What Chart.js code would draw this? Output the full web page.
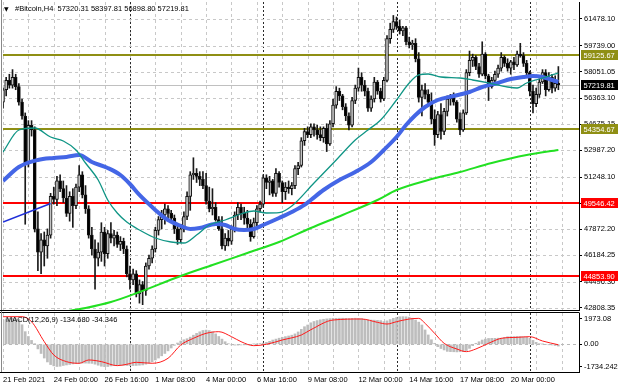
<!DOCTYPE html>
<html><head><meta charset="utf-8">
<script src="https://cdn.jsdelivr.net/npm/chart.js@4.4.1/dist/chart.umd.min.js"></script>
<style>
html,body{margin:0;padding:0;background:#fff;}
#wrap{position:relative;width:620px;height:388px;overflow:hidden;background:#fff;}
canvas{position:absolute;left:0;}
#main{top:0;}
#macd{top:311px;}
</style></head><body>
<div id="wrap"><canvas id="main" width="620" height="311"></canvas><canvas id="macd" width="620" height="77"></canvas></div>
<script>
const FONT = '"Liberation Sans", Arial, sans-serif';
const titleText = '#Bitcoin,H4  57320.31 58397.81 56898.80 57219.81';
const macdTitle = 'MACD(12,26,9) -134.680 -34.346';

// H4 candles (bar index 0 = 21 Feb 2021 08:00)
const open  = [56100,56900,57500,57200,57700,57100,56100,55200,52100,54600,54300,47900,46400,47200,46800,47500,50000,49800,51000,50500,
49900,48900,50000,49400,50600,51400,50100,49200,47500,46600,46000,46400,47700,46300,47600,47300,47500,46900,47100,46600,
45000,44600,45000,43700,44300,43900,45500,46000,46600,47800,48500,48800,49200,48900,48600,47900,47200,47900,48700,50000,
51400,51500,51300,51100,50700,49700,49200,49300,48500,47900,46800,47300,47100,47900,48800,49300,48900,48600,48200,47400,
48300,49200,49500,51200,50900,51000,50200,51500,50900,50300,50600,50500,50700,51800,52000,53600,54200,54000,54500,54300,
54000,53800,54400,53400,54700,55900,56800,56500,55800,55200,54600,56200,57000,57700,57200,56800,55700,56300,57400,56800,
56300,57500,60200,60800,61300,61000,60700,60900,60000,59800,59900,58900,56400,56900,56600,56100,55000,54000,55300,54200,
55500,56300,56500,56100,55000,54300,55400,58000,58800,59000,58400,57900,59200,57800,57100,57500,57900,58300,59000,58600,
58300,58700,58500,59200,59100,58600,58000,56800,56000,56600,57400,58000,56900,57700,57000,57320.31];
const high  = [57000,57700,57900,58200,57900,57300,56300,55400,54900,54900,54500,49000,47600,47700,47900,50200,50600,51300,51400,51000,
50700,50300,50500,50800,52000,51600,50700,49400,48000,47200,47000,48300,48000,47800,48300,47800,47700,47400,47300,46800,
45500,45300,45200,44600,44500,45700,46200,46800,48000,48700,49100,49500,49400,49100,48800,48100,48200,49000,50300,51600,
52500,51800,51600,51600,51500,50600,50500,49600,48700,48700,47600,47800,48100,49000,49600,49500,49300,49100,48500,48600,
49400,49700,51400,51400,51300,51100,51800,51600,51000,50900,51000,50900,52000,52200,53800,54400,54500,54700,54700,54600,
54500,54500,54700,54900,56300,57100,57000,56600,56000,55400,56400,57200,58300,58000,57500,57000,56500,57700,57500,57000,
57700,60400,61200,61700,61600,61400,61000,61000,60300,60100,60200,59300,57200,57300,56900,56700,55600,55500,56000,55700,
56500,56600,56700,56200,55400,55600,58200,59400,59200,59100,58600,60000,59300,57900,57700,58100,58500,59300,59100,58900,
58800,59000,59400,59900,59300,58800,58100,57200,57000,57600,58200,58200,58000,57900,57800,58397.81];
const low   = [55700,56500,57000,57000,56900,55900,55000,48200,51900,53900,47700,45200,45000,45500,46000,47300,49500,49400,50300,49600,
48700,48400,48000,49200,50300,49900,48900,47300,46200,44000,45500,45800,45500,46000,47000,46800,46700,46500,46300,44800,
44000,44300,43500,43100,43000,43600,45300,45700,46400,47500,47900,48200,48500,48300,47600,46900,47000,47700,48500,49100,
51100,50900,50700,50500,49500,49000,48800,48400,47800,46600,46500,46800,46900,47700,48500,48500,48200,47900,47100,47300,
48100,49000,49300,50500,50100,50000,50000,50600,49600,49800,50200,50100,50500,51400,51900,53300,53800,53800,53900,53700,
53600,53500,52900,53300,54500,55700,56200,55600,54900,54300,54500,56000,56800,56800,56500,55500,55500,56100,56600,56100,
56200,57400,59900,60600,60800,60500,60400,59800,59600,59500,58700,56100,55200,56300,55800,54700,53300,53800,53700,54000,
55200,55900,55900,54800,54000,54200,55300,57800,58400,58200,57700,57800,57600,56200,57000,57300,57700,58100,58400,58100,
57900,58200,58400,59000,58400,57800,56500,55400,55800,56400,57300,56500,56800,56700,56800,56898.80];
const close = [56900,57500,57200,57700,57100,56100,55200,52100,54600,54300,47900,46400,47200,46800,47500,50000,49800,51000,50500,49900,
48900,50000,49400,50600,51400,50100,49200,47500,46600,46000,46400,47700,46300,47600,47300,47500,46900,47100,46600,45000,
44600,45000,43700,44300,43900,45500,46000,46600,47800,48500,48800,49200,48900,48600,47900,47200,47900,48700,50000,51400,
51500,51300,51100,50700,49700,49200,49300,48500,47900,46800,47300,47100,47900,48800,49300,48900,48600,48200,47400,48300,
49200,49500,51200,50900,51000,50200,51500,50900,50300,50600,50500,50700,51800,52000,53600,54200,54000,54500,54300,54000,
53800,54400,53400,54700,55900,56800,56500,55800,55200,54600,56200,57000,57700,57200,56800,55700,56300,57400,56800,56300,
57500,60200,60800,61300,61000,60700,60900,60000,59800,59900,58900,56400,56900,56600,56100,55000,54000,55300,54200,55500,
56300,56500,56100,55000,54300,55400,58000,58800,59000,58400,57900,59200,57800,57100,57500,57900,58300,59000,58600,58300,
58700,58500,59200,59100,58600,58000,56800,56000,56600,57400,58000,56900,57700,57000,57320.31,57219.81];

// moving averages, read at sample bars
const maFastIdx = [0,5,10,15,19,23,26,30,33,36,39,43,48,53,57,61,65,70,75,79,83,87,91,98,105,111,115,119,124,128,131,134,138,144,148,153,159,162,165,169,173,175];
const maFastVal = [52872,54295,54424,53842,53584,53002,52161,51062,49768,48927,48345,47828,47311,47052,46987,47505,48151,48475,48863,49057,48927,48950,49380,50868,52355,53648,54295,54942,56235,57335,57852,57917,57723,57658,57529,57335,57076,57011,57335,57593,57852,57981];
const maMidIdx = [0,5,11,16,20,24,28,33,37,40,43,48,51,56,59,62,67,70,73,76,79,82,87,91,95,97,101,106,111,116,120,124,127,130,133,137,142,147,151,156,160,164,167,170,173,175];
const maMidVal = [50997,51902,52355,52484,52549,52678,52226,51838,51385,50803,50092,49122,48604,48087,47893,47958,48216,48151,47893,47828,47893,48151,48604,48992,49450,49768,50415,51062,51579,52226,53002,53842,54618,55265,55782,56235,56494,56752,57076,57335,57593,57723,57787,57723,57529,57399];
const maSlowIdx = [18,26,34,43,56,66,77,87,97,107,118,124,134,144,154,165,175];
const maSlowVal = [42500,42784,43172,43819,44853,45565,46341,47052,47957,48798,49768,50415,51062,51579,52161,52678,53002];
const trendIdx = [0,15];
const trendVal = [48345,49546];

const levelValues = [59125.67,54354.67,49546.42,44853.90];
const levelLabels = ['59125.67','54354.67','49546.42','44853.90'];
const levelColors = ['#8f8f14','#8f8f14','#ff0000','#ff0000'];
const bidPrice = 57219.81;
const bidLabel = '57219.81';

const priceTicks = [61478.10,59739.00,58051.05,56363.10,54675.15,52987.20,51248.10,49560.15,47872.20,46184.25,44496.30,42808.35];
const priceTickLabels = ['61478.10','59739.00','58051.05','56363.10','54675.15','52987.20','51248.10','49560.15','47872.20','46184.25','44496.30','42808.35'];

// MACD
const macdHist = [1850,1950,2000,2000,1950,1900,1500,970,600,300,
50,-350,-700,-1050,-1350,-1550,-1650,-1700,-1680,-1620,
-1580,-1540,-1500,-1470,-1450,-1440,-1440,-1450,-1460,-1520,
-1600,-1680,-1710,-1700,-1660,-1620,-1590,-1580,-1600,-1620,
-1630,-1630,-1620,-1600,-1580,-1520,-1440,-1340,-1200,-1050,
-880,-700,-500,-280,-80,100,250,350,430,550,
700,840,960,1060,1090,1050,960,800,600,400,
200,50,-40,-60,-60,-50,-40,-20,0,20,
40,60,90,150,230,330,400,470,540,590,
640,700,800,950,1150,1350,1480,1650,1750,1820,
1880,1920,1950,1970,1990,1990,2000,2000,1990,1980,
1990,2000,1990,1970,1920,1870,1860,1850,1840,1820,
1740,1800,1900,1990,2050,2110,2120,2110,2080,2000,
1860,1700,1480,1100,720,350,80,-180,-320,-430,
-540,-560,-570,-580,-570,-560,-480,-310,-100,80,
200,330,400,450,460,460,470,470,520,580,
590,590,600,590,570,540,460,300,150,50,
10,0,-20,-50,-90,-134.68];
const signalIdx = [0,6,9,13,16,20,24,27,31,36,39,42,47,52,56,60,64,68,72,75,79,83,88,94,97,104,113,118,121,124,128,131,133,136,139,143,146,149,153,157,162,166,170,175];
const signalVal = [2117,2117,1734,204,-816,-1326,-1453,-1199,-1326,-1632,-1530,-1377,-1453,-1071,-51,459,842,969,587,204,-102,0,332,714,1120,1862,1938,1683,1556,1734,1938,1989,1607,842,77,-357,-561,-357,77,459,536,587,255,-34.346];
const macdTicks = [1973.08,0,-1734.242];
const macdTickLabels = ['1973.08','0.00','-1734.242'];

const timeLabelIdx = [0,16,32,48,64,80,96,112,128,144,160];
const timeLabels = ['21 Feb 2021','24 Feb 00:00','26 Feb 16:00','1 Mar 08:00','4 Mar 00:00','6 Mar 16:00','9 Mar 08:00','12 Mar 00:00','14 Mar 16:00','17 Mar 08:00','20 Mar 00:00'];
const gridIdx = [0,8,16,24,32,40,48,56,64,72,80,88,96,104,112,120,128,136,144,152,160,168,176];
const separatorIdx = [40,82,124,166];

const X_MIN = 0, X_MAX = 181.5;
const P_MIN = 42655, P_MAX = 62572;
const M_MIN = -2120, M_MAX = 2400;

function pts(ix, vals){ return ix.map((x,k)=>({x:x, y:vals[k]})); }
function hl(ctx,x1,y1,x2,y2){ ctx.beginPath(); ctx.moveTo(x1,y1); ctx.lineTo(x2,y2); ctx.stroke(); }
function px(v){ return Math.round(v)+0.5; }
function noPad(s){ s.paddingTop = 0; s.paddingBottom = 0; s.paddingLeft = 0; s.paddingRight = 0; }

function drawVGrid(chart){
  const {ctx, chartArea:a, scales:{x}} = chart;
  ctx.lineWidth = 1;
  ctx.strokeStyle = '#c8c8c8'; ctx.setLineDash([3,3]);
  gridIdx.forEach(i=>{ const xx = px(x.getPixelForValue(i)); if (xx>a.left && xx<a.right) hl(ctx,xx,a.top,xx,a.bottom); });
  ctx.strokeStyle = '#2a2a2a'; ctx.setLineDash([2,2]);
  separatorIdx.forEach(i=>{ const xx = px(x.getPixelForValue(i)); hl(ctx,xx,a.top,xx,a.bottom); });
  ctx.setLineDash([]);
}

const mainPlugin = {
  id: 'mtMain',
  beforeDatasetsDraw(chart){
    const {ctx, chartArea:a, scales:{y}} = chart;
    ctx.save();
    ctx.beginPath(); ctx.rect(a.left, a.top, a.right-a.left, a.bottom-a.top); ctx.clip();
    drawVGrid(chart);
    ctx.strokeStyle = '#c8c8c8'; ctx.setLineDash([3,3]);
    priceTicks.forEach(v=>{ const yy = px(y.getPixelForValue(v)); hl(ctx,a.left,yy,a.right,yy); });
    ctx.setLineDash([]);
    ctx.strokeStyle = '#c0c0c0';
    const by = px(y.getPixelForValue(bidPrice)); hl(ctx,a.left,by,a.right,by);
    ctx.lineWidth = 2;
    levelValues.forEach((v,k)=>{ ctx.strokeStyle = levelColors[k]; const yy = Math.round(y.getPixelForValue(v)); hl(ctx,a.left,yy,a.right,yy); });
    ctx.restore();
  },
  afterDraw(chart){
    const {ctx, chartArea:a, scales:{y}} = chart;
    ctx.save();
    ctx.strokeStyle = '#888'; ctx.lineWidth = 1;
    hl(ctx,1.5,0,1.5,311);
    ctx.strokeStyle = '#000';
    hl(ctx,0,310.5,a.right+0.5,310.5);
    ctx.font = '7.5px ' + FONT; ctx.textBaseline = 'middle'; ctx.textAlign = 'left';
    levelValues.forEach((v,k)=>{
      const yy = Math.round(y.getPixelForValue(v));
      ctx.fillStyle = levelColors[k]; ctx.fillRect(581, yy-5, 37, 10);
      ctx.fillStyle = '#fff'; ctx.fillText(levelLabels[k], 583.5, yy+0.5);
    });
    const by = Math.round(y.getPixelForValue(bidPrice));
    ctx.fillStyle = '#000'; ctx.fillRect(581, by-5, 37, 10);
    ctx.fillStyle = '#fff'; ctx.fillText(bidLabel, 583.5, by+0.5);
    ctx.fillStyle = '#000'; ctx.textBaseline = 'alphabetic';
    ctx.font = '6px "DejaVu Sans", sans-serif';
    ctx.fillText('\u25BC', 4, 10.5);
    ctx.font = '7.5px ' + FONT;
    ctx.fillText(titleText, 15, 11);
    ctx.restore();
  }
};

const macdPlugin = {
  id: 'mtMacd',
  beforeDatasetsDraw(chart){
    const {ctx, chartArea:a, scales:{y}} = chart;
    ctx.save();
    ctx.beginPath(); ctx.rect(a.left, a.top, a.right-a.left, a.bottom-a.top); ctx.clip();
    drawVGrid(chart);
    ctx.strokeStyle = '#b8b8b8'; ctx.setLineDash([3,3]);
    const zy = px(y.getPixelForValue(0)); hl(ctx,a.left,zy,a.right,zy);
    ctx.restore();
  },
  afterDraw(chart){
    const {ctx, chartArea:a} = chart;
    ctx.save();
    ctx.strokeStyle = '#000'; ctx.lineWidth = 1;
    hl(ctx,0,1.5,a.right+0.5,1.5);
    hl(ctx,0,px(a.bottom),a.right+0.5,px(a.bottom));
    ctx.strokeStyle = '#888';
    hl(ctx,1.5,0,1.5,a.bottom);
    ctx.fillStyle = '#000'; ctx.font = '7.5px ' + FONT; ctx.textAlign = 'left'; ctx.textBaseline = 'alphabetic';
    ctx.fillText(macdTitle, 6, 11);
    ctx.restore();
  }
};

const bodyColor = c => { const i = c.dataIndex; return close[i] >= open[i] ? '#c4c4c4' : '#000000'; };

new Chart(document.getElementById('main'), {
  type: 'bar',
  data: { datasets: [
    { type:'line', data: pts(trendIdx, trendVal), borderColor:'#1f2fd8', borderWidth:1.6, pointRadius:0, order:0, clip:0 },
    { type:'line', data: pts(maSlowIdx, maSlowVal), borderColor:'#22e022', borderWidth:2, pointRadius:0, cubicInterpolationMode:'monotone', order:0, clip:0 },
    { type:'line', data: pts(maFastIdx, maFastVal), borderColor:'#0f9585', borderWidth:1.3, pointRadius:0, cubicInterpolationMode:'monotone', order:0, clip:0 },
    { type:'line', data: pts(maMidIdx, maMidVal), borderColor:'#4466e6', borderWidth:4, pointRadius:0, cubicInterpolationMode:'monotone', order:0, clip:0 },
    { type:'bar', data: open.map((o,i)=>({x:i, y:[o, close[i]]})), backgroundColor: bodyColor, borderColor:'#111', borderWidth:1, borderSkipped:false, barThickness:3, grouped:false, order:1 },
    { type:'bar', data: open.map((o,i)=>({x:i, y:[low[i], high[i]]})), backgroundColor:'#1a1a1a', borderWidth:0, barThickness:1, grouped:false, order:2 }
  ]},
  options: {
    responsive:false, animation:false, devicePixelRatio:1, events:[],
    layout:{ padding:{left:3, top:2, right:0, bottom:1} },
    plugins:{ legend:{display:false}, tooltip:{enabled:false} },
    scales:{
      x:{ type:'linear', min:X_MIN, max:X_MAX, display:false, offset:false, grid:{offset:false} },
      y:{ position:'right', min:P_MIN, max:P_MAX,
        afterBuildTicks: s => { s.ticks = priceTicks.map(v=>({value:v})); },
        afterFit: s => { s.width = 41; noPad(s); },
        ticks:{ callback:(v,i)=>priceTickLabels[i], font:{family:FONT, size:7.5}, color:'#000', padding:2, autoSkip:false },
        grid:{ display:true, drawOnChartArea:false, drawTicks:true, tickLength:3, tickColor:'#000', color:'#000' },
        border:{ display:true, color:'#000' }
      }
    }
  },
  plugins:[mainPlugin]
});

new Chart(document.getElementById('macd'), {
  type: 'bar',
  data: { datasets: [
    { type:'line', data: pts(signalIdx, signalVal), borderColor:'#ff1a1a', borderWidth:1, pointRadius:0, cubicInterpolationMode:'monotone', order:0, clip:0 },
    { type:'bar', data: macdHist.map((v,i)=>({x:i, y:v})), backgroundColor:'#bdbdbd', borderWidth:0, barThickness:2, grouped:false, order:1 }
  ]},
  options: {
    responsive:false, animation:false, devicePixelRatio:1, events:[],
    layout:{ padding:{left:3, top:2, right:0, bottom:0} },
    plugins:{ legend:{display:false}, tooltip:{enabled:false} },
    scales:{
      x:{ type:'linear', min:X_MIN, max:X_MAX, offset:false,
        afterBuildTicks: s => { s.ticks = timeLabelIdx.map(v=>({value:v})); },
        afterFit: s => { s.height = 16; noPad(s); },
        ticks:{ callback:(v,i)=>timeLabels[i], align:'start', autoSkip:false, maxRotation:0, minRotation:0, font:{family:FONT, size:7.5}, color:'#000', padding:3 },
        grid:{ display:false, drawTicks:false, offset:false },
        border:{ display:false }
      },
      y:{ position:'right', min:M_MIN, max:M_MAX,
        afterBuildTicks: s => { s.ticks = macdTicks.map(v=>({value:v})); },
        afterFit: s => { s.width = 41; noPad(s); },
        ticks:{ callback:(v,i)=>macdTickLabels[i], font:{family:FONT, size:7.5}, color:'#000', padding:2, autoSkip:false },
        grid:{ display:true, drawOnChartArea:false, drawTicks:true, tickLength:3, tickColor:'#000', color:'#000' },
        border:{ display:true, color:'#000' }
      }
    }
  },
  plugins:[macdPlugin]
});
</script></body></html>
